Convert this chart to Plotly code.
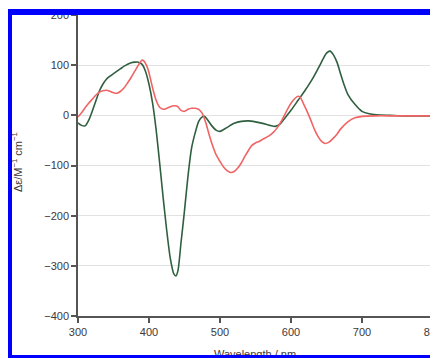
import plotly.graph_objects as go

# ---- data ----
green_wl = [300, 305, 310, 315, 320, 325, 330, 335, 340, 345, 350, 355, 360, 365, 370, 375, 380, 385,
            390, 395, 400, 405, 410, 415, 420, 425, 430, 435, 438, 441, 445, 450, 455, 460, 465, 470,
            475, 478, 482, 488, 495, 500, 510, 520, 530, 540, 550, 560, 570, 578, 585, 590, 600, 610,
            620, 630, 640, 645, 650, 655, 660, 665, 670, 675, 680, 690, 700, 710, 720, 740, 760, 780, 800]
green_de = [-15, -20, -21, -10, 8, 28, 48, 62, 72, 78, 83, 88, 93, 98, 102, 105, 106, 106,
            102, 88, 62, 25, -28, -95, -165, -230, -285, -316, -320, -308, -255, -190, -120, -65, -35, -12,
            -3, -2, -8, -20, -30, -32, -24, -16, -12, -11, -13, -16, -20, -22, -17, -8, 10, 30,
            50, 72, 98, 112, 124, 128, 120, 105, 82, 60, 42, 22, 8, 3, 1, 0, -1, -1, -1]

red_wl = [300, 305, 310, 315, 320, 325, 330, 335, 340, 345, 350, 355, 360, 365, 370, 375, 380, 385,
          390, 393, 397, 400, 405, 410, 415, 420, 425, 430, 435, 440, 445, 450, 455, 460, 465, 470,
          475, 480, 485, 490, 495, 500, 505, 510, 515, 520, 525, 530, 535, 540, 545, 550, 555, 560,
          570, 575, 580, 585, 590, 595, 600, 605, 610, 613, 618, 622, 628, 633, 638, 643, 648, 653,
          660, 665, 670, 680, 690, 700, 720, 740, 760, 800]
red_de = [-3, 5, 15, 24, 32, 40, 46, 49, 50, 48, 45, 44, 48, 55, 65, 76, 88, 100,
          110, 108, 98, 85, 55, 30, 16, 12, 14, 17, 19, 18, 10, 8, 12, 14, 14, 12,
          4, -15, -40, -62, -80, -92, -103, -110, -114, -112, -105, -95, -82, -70, -60, -55, -52, -48,
          -40, -34, -26, -15, -2, 12, 24, 33, 38, 36, 22, 10, -10, -28, -42, -52, -56, -54,
          -45, -37, -27, -13, -5, -2, -1, -1, -1, -1]

x_ticks = [300, 400, 500, 600, 700, 800]
y_ticks = [-400, -300, -200, -100, 0, 100, 200]
x_title = "Wavelength / nm"
y_title = "Δε/M<sup>−1</sup> cm<sup>−1</sup>"

# ---- layout constants (pixels); page body adds an 8px offset ----
OFF = 8
W, H = 438 - OFF, 358 - OFF
L, R, T, B = 78 - OFF, 5, 15 - OFF, 42
PW, PH = W - L - R, H - T - B
XR = [300, 800]
YR = [-400, 200]


def px(x):
    return (x - OFF - L) / PW


def py(y):
    return (H - B - (y - OFF)) / PH


FONT = "Liberation Sans, Arial, sans-serif"
TXT = "#403838"

fig = go.Figure()
fig.add_trace(go.Scatter(x=green_wl, y=green_de, mode="lines", line=dict(color="#2f5f3f", width=1.6, shape="spline", smoothing=0.6),
                         hoverinfo="skip", showlegend=False))
fig.add_trace(go.Scatter(x=red_wl, y=red_de, mode="lines", line=dict(color="#f06464", width=1.6, shape="spline", smoothing=0.6),
                         hoverinfo="skip", showlegend=False))
# empty trace so the title axis (x2) gets drawn
fig.add_trace(go.Scatter(x=[None], y=[None], xaxis="x2", mode="lines", hoverinfo="skip", showlegend=False))

# x-axis title as a tick label of an overlaying axis, so the frame can overlap it like in the reference
title_pos = XR[0] + (255 - OFF - L) / PW * (XR[1] - XR[0])

fig.update_layout(
    width=W, height=H,
    margin=dict(l=L, r=R, t=T, b=B, pad=0, autoexpand=False),
    paper_bgcolor="white", plot_bgcolor="white",
    font=dict(family=FONT, size=11, color=TXT),
    xaxis=dict(range=XR, tickvals=x_ticks, showgrid=False, zeroline=False, automargin=False,
               showline=True, linecolor="#555555", linewidth=1.5,
               ticks="outside", ticklen=5, tickwidth=1.5, tickcolor="#555555",
               tickfont=dict(size=11, color=TXT), ticklabeloverflow="allow"),
    xaxis2=dict(range=XR, overlaying="x", side="bottom", anchor="y", automargin=False,
                tickvals=[title_pos], ticktext=[x_title], showgrid=False, zeroline=False,
                showline=False, ticks="", ticklabelstandoff=30,
                tickfont=dict(size=11, color=TXT), ticklabeloverflow="allow"),
    yaxis=dict(range=YR, tickvals=y_ticks, showgrid=True, gridcolor="#e2e2e2", gridwidth=1,
               zeroline=False, showline=True, linecolor="#555555", linewidth=1.5, automargin=False,
               ticks="outside", ticklen=5, tickwidth=1.5, tickcolor="#555555",
               tickfont=dict(size=11, color=TXT)),
)

fig.add_annotation(text=y_title, textangle=-90, xref="paper", yref="paper",
                   x=px(17), y=py(162), showarrow=False, xanchor="center", yanchor="middle",
                   font=dict(family=FONT, size=11, color=TXT))

# blue frame (page pixel coordinates)
BLUE = "#0000ff"
frame = [
    (6, 9, 12, 358),    # left
    (6, 9, 438, 15),    # top
    (434, 9, 438, 358),  # right
    (6, 355, 438, 358),  # bottom
]
for x0, y0, x1, y1 in frame:
    fig.add_shape(type="rect", xref="paper", yref="paper", x0=px(x0), x1=px(x1), y0=py(y1), y1=py(y0),
                  fillcolor=BLUE, line=dict(width=0), layer="above")

fig.write_html("out.html")
